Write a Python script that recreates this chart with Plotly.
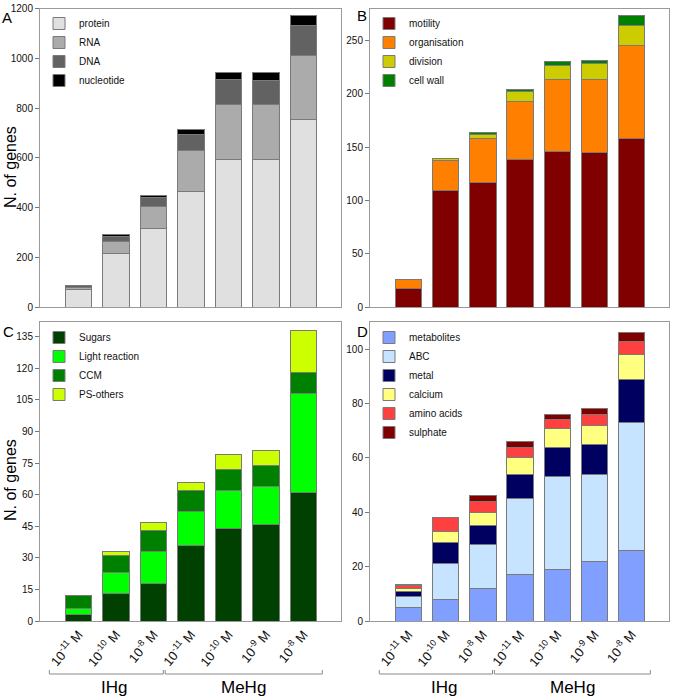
import plotly.graph_objects as go

# ---------------- data ----------------
categories = ["IHg 1e-11 M", "IHg 1e-10 M", "IHg 1e-8 M",
              "MeHg 1e-11 M", "MeHg 1e-10 M", "MeHg 1e-9 M", "MeHg 1e-8 M"]
tick_labels = ["10<sup>-11</sup> M", "10<sup>-10</sup> M", "10<sup>-8</sup> M",
               "10<sup>-11</sup> M", "10<sup>-10</sup> M", "10<sup>-9</sup> M", "10<sup>-8</sup> M"]
group_names = ["IHg", "MeHg"]

# Panel A
protein = [72, 215, 315, 463, 594, 594, 754]
rna = [8, 50, 91, 165, 219, 219, 256]
dna = [5, 19, 34, 65, 103, 99, 123]
nucleotide = [3, 8, 9, 20, 25, 29, 40]

# Panel B
motility = [17, 109, 117, 138, 146, 145, 158]
organisation = [9, 28, 41, 55, 67, 68, 87]
division = [0, 2, 4, 9, 14, 15, 19]
cell_wall = [0, 0.5, 2, 2, 3, 3, 9]

# Panel C
sugars = [3, 13, 18, 36, 44, 46, 61]
light_reaction = [3, 10, 15, 16, 18, 18, 47]
ccm = [6, 8, 10, 10, 10, 10, 10]
ps_others = [0, 2, 4, 4, 7, 7, 20]

# Panel D
metabolites = [5, 8, 12, 17, 19, 22, 26]
abc = [4, 13, 16, 28, 34, 32, 47]
metal = [2, 8, 7, 9, 11, 11, 16]
calcium = [1, 4, 5, 6, 7, 7, 9]
amino_acids = [1, 5, 4, 4, 3, 4, 5]
sulphate = [0.3, 0, 2, 2, 2, 2, 3]

panels = [
    ("A", [("protein", protein, "#e0e0e0"), ("RNA", rna, "#ababab"),
           ("DNA", dna, "#626262"), ("nucleotide", nucleotide, "#000000")]),
    ("B", [("motility", motility, "#800000"), ("organisation", organisation, "#ff8000"),
           ("division", division, "#cccc00"), ("cell wall", cell_wall, "#008000")]),
    ("C", [("Sugars", sugars, "#004000"), ("Light reaction", light_reaction, "#00ff00"),
           ("CCM", ccm, "#008000"), ("PS-others", ps_others, "#ccff00")]),
    ("D", [("metabolites", metabolites, "#809fff"), ("ABC", abc, "#c6e3ff"),
           ("metal", metal, "#000060"), ("calcium", calcium, "#ffff80"),
           ("amino acids", amino_acids, "#ff4040"), ("sulphate", sulphate, "#800000")]),
]

y_ranges = [[0, 1200], [0, 280], [0, 142], [0, 110]]
y_dticks = [200, 50, 15, 20]

# ---------------- layout geometry (pixels) ----------------
W, H = 675, 698
def px(x):
    return x / W
def py(y):
    return 1 - y / H

x_domains = [[px(40), px(341)], [px(370), px(669)]]
y_domains = [[py(307), py(8.5)], [py(621), py(322)]]

FONT = "Liberation Sans, Arial, sans-serif"

fig = go.Figure()

for i, (letter, series) in enumerate(panels):
    n = i + 1
    xa = "x" if n == 1 else f"x{n}"
    ya = "y" if n == 1 else f"y{n}"
    lg = "legend" if n == 1 else f"legend{n}"
    for name, vals, color in series:
        fig.add_trace(go.Bar(
            x=categories, y=vals, name=name, xaxis=xa, yaxis=ya, legend=lg,
            marker=dict(color=color, line=dict(color="#7a7a7a", width=1)),
            width=0.71,
        ))

axis_common = dict(showgrid=False, zeroline=False, showline=True, linecolor="#9a9a9a",
                   linewidth=1, mirror=True, automargin=False)

layout = dict(
    width=W, height=H, margin=dict(l=0, r=0, t=0, b=0, autoexpand=False),
    paper_bgcolor="white", plot_bgcolor="white",
    barmode="stack", bargap=0.29,
    font=dict(family=FONT, size=10, color="#111111"),
    showlegend=True,
)

for i in range(4):
    n = i + 1
    col = i % 2
    row = i // 2
    xkey = "xaxis" if n == 1 else f"xaxis{n}"
    ykey = "yaxis" if n == 1 else f"yaxis{n}"
    ya = "y" if n == 1 else f"y{n}"
    xa = "x" if n == 1 else f"x{n}"
    xax = dict(axis_common, domain=x_domains[col], anchor=ya, type="category",
               categoryorder="array", categoryarray=categories,
               range=[-1.03, 7.0], ticks="")
    if row == 0:
        xax["showticklabels"] = False
    else:
        xax.update(showticklabels=True, tickmode="array", tickvals=categories,
                   ticktext=tick_labels, tickangle=-50,
                   tickfont=dict(family=FONT, size=13, color="#111111"))
    layout[xkey] = xax
    layout[ykey] = dict(axis_common, domain=y_domains[row], anchor=xa,
                        range=y_ranges[i], dtick=y_dticks[i], tick0=0,
                        ticks="outside", ticklen=4, tickcolor="#777777",
                        tickfont=dict(family=FONT, size=10, color="#111111"))
    lkey = "legend" if n == 1 else f"legend{n}"
    lx = px(39) if col == 0 else px(369)
    ly = py(9) if row == 0 else py(323)
    layout[lkey] = dict(x=lx, y=ly, xanchor="left", yanchor="top",
                        traceorder="normal", bgcolor="rgba(0,0,0,0)",
                        font=dict(family=FONT, size=10, color="#111111"),
                        itemwidth=30, tracegroupgap=0)

fig.update_layout(**layout)

# panel letters
letters = [(7, 18), (362, 16), (8, 331), (362, 331)]
for (letter, _), (lx, ly) in zip(panels, letters):
    fig.add_annotation(text=letter, x=px(lx), y=py(ly), xref="paper", yref="paper",
                       showarrow=False, xanchor="center", yanchor="middle",
                       font=dict(family=FONT, size=15, color="#000000"))

# y titles
for ty in (167, 480):
    fig.add_annotation(text="N. of genes", x=px(11), y=py(ty), xref="paper", yref="paper",
                       showarrow=False, textangle=-90, xanchor="center", yanchor="middle",
                       font=dict(family=FONT, size=16, color="#000000"))

# group brackets under panels C and D
brackets = [(group_names[0], -0.78, 2.26, 0.95), (group_names[1], 2.31, 6.5, 4.4)]
yb = py(674)
yh = py(670)
for xa in ("x3", "x4"):
    for gname, x0, x1, xc in brackets:
        fig.add_shape(type="line", xref=xa, yref="paper", x0=x0, x1=x1, y0=yb, y1=yb,
                      line=dict(color="#8a8a8a", width=1))
        fig.add_shape(type="line", xref=xa, yref="paper", x0=x0, x1=x0, y0=yb, y1=yh,
                      line=dict(color="#8a8a8a", width=1))
        fig.add_shape(type="line", xref=xa, yref="paper", x0=x1, x1=x1, y0=yb, y1=yh,
                      line=dict(color="#8a8a8a", width=1))
        fig.add_annotation(text=gname, x=xc, y=py(687), xref=xa, yref="paper",
                           showarrow=False, xanchor="center", yanchor="middle",
                           font=dict(family=FONT, size=17, color="#000000"))

fig.write_html("out.html", config={"displayModeBar": False},
               post_script="document.body.style.margin='0';document.body.style.overflow='hidden';")
